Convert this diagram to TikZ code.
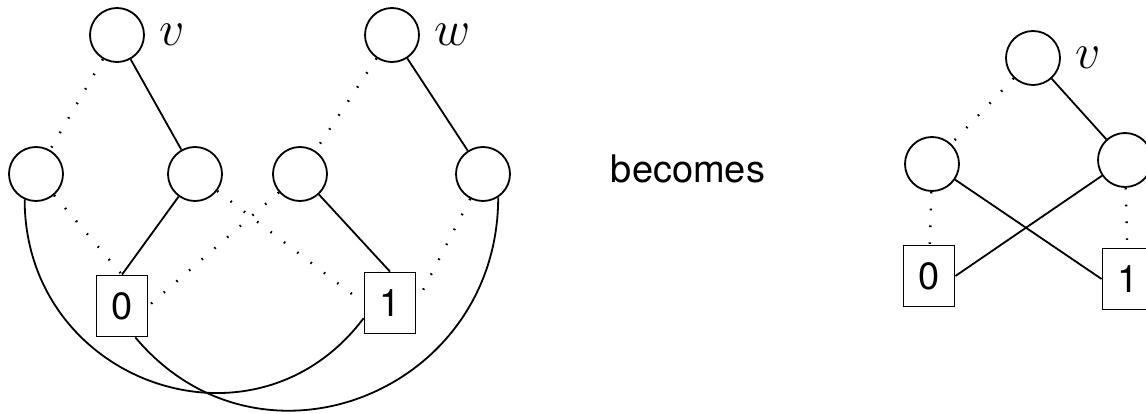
\documentclass[tikz,border=0pt]{standalone}
\usepackage{fontspec}
\setmainfont{TeX Gyre Heros}
\usetikzlibrary{positioning}

\begin{document}
\begin{tikzpicture}[x=0.5pt,y=0.5pt,line width=0.9pt,
    font=\fontsize{19}{22}\selectfont,
    vtx/.style={draw,circle,minimum size=27pt,inner sep=0pt},
    leaf/.style={draw,rectangle,minimum width=25.5pt,minimum height=30.5pt,inner sep=0pt},
    tag/.style={font=\fontsize{24}{26}\selectfont,inner sep=2pt},
    lo/.style={line width=1.2pt,dash pattern=on 0.8pt off 7.6pt}]
  \useasboundingbox (0,0) rectangle (1146,413);
  % left: two trees sharing the leaves
  \node[vtx] (v) at (117,378) {};
  \node[vtx] (w) at (392,378) {};
  \foreach \n/\x in {a1/36,a2/195,a3/300,a4/483}{
    \node[vtx] (\n) at (\x,239) {};}
  \node[leaf] (b0) at (122,107) {0};
  \node[leaf] (b1) at (390,110) {1};
  \node[tag,right=5pt of v] (vlab) {$v$};
  \node[tag,right=5pt of w] (wlab) {$w$};
  \draw[lo] (v) -- (a1);
  \draw (v) -- (a2);
  \draw[lo] (w) -- (a3);
  \draw (w) -- (a4);
  \draw[lo] (a1) -- (b0.north);
  \draw (a2) -- (b0.north);
  \draw[lo] (a2) -- (b1.west);
  \draw[lo] (a3) -- (b0.east);
  \draw (a3) -- (b1.north);
  \draw[lo] (a4) -- (b1.east);
  \draw (a1.-114) to[out=-90,in=-127,looseness=1.3] (b1.-150);
  \draw (b0.-67) to[out=-50,in=-90,looseness=1.28] (a4.-57);
  \node (becomes) at (688,244) {becomes};
  % right: the merged tree
  \node[vtx] (rv) at (1033,355) {};
  \node[vtx] (ra) at (932,249) {};
  \node[vtx] (rb) at (1125,253) {};
  \node[leaf] (r0) at (929,137) {0};
  \node[leaf] (r1) at (1128,134) {1};
  \node[tag,right=5pt of rv] (rvlab) {$v$};
  \draw[lo] (rv) -- (ra);
  \draw (rv) -- (rb);
  \draw[lo] (ra) -- (r0);
  \draw (ra) -- (r1.west);
  \draw (rb) -- (r0.east);
  \draw[lo] (rb) -- (r1);
\end{tikzpicture}
\end{document}
